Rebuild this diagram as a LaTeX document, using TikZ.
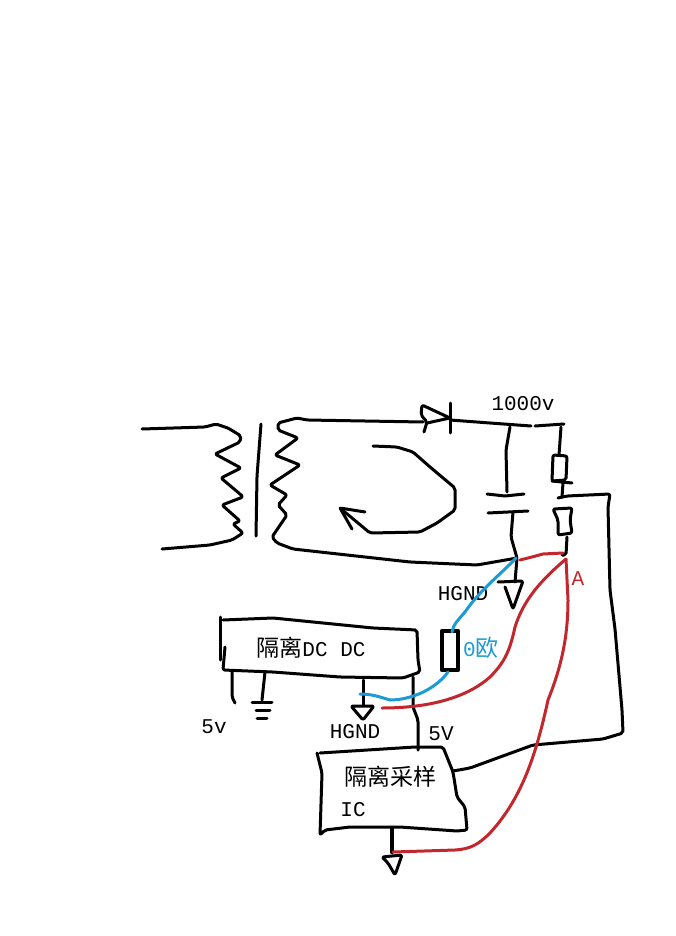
\documentclass[tikz,border=0pt]{standalone}
\usepackage{fontspec}
\setmonofont{Liberation Mono}
\newfontfamily\cjk{Noto Sans CJK SC}
\newcommand{\hz}{\cjk\fontsize{23}{25}\selectfont}
\usepackage{xcolor}
\definecolor{inkred}{HTML}{C1272D}
\definecolor{inkblue}{HTML}{1C9AD6}
\tikzset{
  wire/.style={draw=black, line width=3pt, line cap=round, line join=round, rounded corners=2pt},
  thick wire/.style={wire, line width=4.5pt},
  redw/.style={draw=inkred, line width=3pt, line cap=round, line join=round},
  bluew/.style={draw=inkblue, line width=3pt, line cap=round, line join=round},
  lab/.style={text=black, font=\fontsize{21}{23}\selectfont\ttfamily, inner sep=0pt},
}

\begin{document}
\begin{tikzpicture}[x=1pt,y=-1pt]
  \useasboundingbox (0,0) rectangle (675,936);
  % transformer
  \draw[wire] (142,429) -- (205,427) -- (216,424) -- (228,428) -- (241,436) -- (240,442) -- (215,454) -- (241,468) -- (221,478) -- (240,494) -- (243,497) -- (222,505) -- (240,521) -- (233,524) -- (243,533) -- (232,540) -- (210,545) -- (162,549);
  \draw[wire] (261,424) -- (257,476) -- (256,536);
  \draw[wire] (423,422) -- (307,420) -- (297,418) -- (278,423) -- (278,430) -- (298,438) -- (275,455) -- (300,465) -- (270,485) -- (287,495) -- (278,505) -- (287,515) -- (272,537) -- (277,543) -- (293,549) -- (347,555) -- (410,562) -- (477,565) -- (517,558);
  % diode
  \draw[wire] (424,432) -- (427,422) -- (421,415) -- (422,405) -- (450,418) -- (427,423);
  \draw[wire] (450,403) -- (450,433);
  \draw[wire] (450,420) -- (490,423) -- (531,426);
  \draw[wire] (535,426) -- (564,424);
  % capacitor
  \draw[wire] (510,427) -- (506,450) -- (507,492);
  \draw[wire] (487,494) -- (505,496) -- (524,494);
  \draw[wire] (488,513) -- (528,511);
  \draw[wire] (513,512) -- (511,537) -- (517,558) -- (515,582);
  \draw[wire] (498,582) -- (523,581) -- (513,609) -- (505,587);
  % resistors
  \draw[wire] (561,427) -- (559,455);
  \draw[wire] (553,455) -- (567,456) -- (566,480) -- (552,481) -- cycle;
  \draw[wire] (552,481) -- (572,483);
  \draw[wire] (563,483) -- (562,497);
  \draw[wire] (558,498) -- (567,496) -- (610,494) -- (608,507) -- (610,590) -- (615,629) -- (622,710) -- (623,733) -- (603,739) -- (533,745) -- (470,768) -- (453,771);
  \draw[wire] (553,509) -- (572,508) -- (570,520) -- (572,533) -- (558,535) -- (558,520) -- cycle;
  \draw[wire] (567,537) -- (566,555) -- (562,555);
  % loop arrow
  \draw[wire] (373,446) -- (397,447) -- (413,452) -- (430,467) -- (455,488) -- (455,510) -- (437,523) -- (420,532) -- (370,533) -- (340,508);
  \draw[wire] (365,512) -- (340,508) -- (352,529);
  % DC DC box
  \draw[wire] (220,617) -- (220,660);
  \draw[wire] (225,647) -- (223,670) -- (273,672) -- (340,677) -- (403,678) -- (420,672) -- (418,660) -- (417,630) -- (373,628) -- (323,623) -- (273,618) -- (223,620);
  \draw[wire] (232,672) -- (232,697) -- (235,703);
  \draw[wire] (265,672) -- (262,700);
  \draw[wire] (252,702) -- (272,702);
  \draw[wire] (256,710) -- (270,710);
  \draw[wire] (257,718) -- (267,718);
  \draw[wire] (363,680) -- (363,705);
  \draw[wire] (351,706) -- (374,706) -- (363,720) -- cycle;
  \draw[wire] (413,677) -- (413,707) -- (418,720) -- (418,750);
  % sampling IC
  \draw[wire] (317,753) -- (322,773) -- (320,835) -- (325,830) -- (350,827) -- (400,827) -- (457,831) -- (467,830) -- (465,807) -- (457,797) -- (453,772) -- (443,747) -- (415,747) -- (320,753);
  \draw[thick wire] (392,828) -- (392,852);
  \draw[wire] (382,857) -- (402,855) -- (395,875) -- (388,863) -- cycle;
  % zero ohm link
  \draw[wire, line width=4.2pt, rounded corners=0pt] (442,631) rectangle (458,670);
  % labels
  \node[lab] (volt) at (523,404) {1000v};
  \node[lab] (hgnda) at (463,594) {HGND};
  \node[lab, text=inkblue] (zero) at (481,648) {0{\hz 欧}};
  \node[lab, text=inkred] (alab) at (578,579) {A};
  \node[lab] (dcdc) at (311,648) {{\hz 隔离}DC DC};
  \node[lab] (fiveva) at (214,727) {5v};
  \node[lab] (hgndb) at (355,732) {HGND};
  \node[lab] (fivevb) at (441,734) {5V};
  \node[lab] (sample) at (390,777) {{\hz 隔离采样}};
  \node[lab] (ic) at (353,810) {IC};
  % coloured traces
  \coordinate (A) at (566,559);
  \draw[redw] (520,560) -- (532,557) -- (543,554) -- (563,553);
  \draw[redw] (A) .. controls (535,585) and (522,605) .. (515,627) .. controls (510,650) and (505,662) .. (490,677) .. controls (470,695) and (435,708) .. (382,708);
  \draw[redw] (A) -- (568,600) .. controls (568,640) and (560,670) .. (548,700) .. controls (535,760) and (520,800) .. (490,833) .. controls (478,845) and (470,849) .. (455,850) -- (393,852);
  \draw[bluew] (516,558) .. controls (500,575) and (480,590) .. (465,612) .. controls (458,620) and (453,625) .. (452,632);
  \draw[bluew] (448,672) .. controls (435,690) and (410,700) .. (390,700) .. controls (380,697) and (372,694) .. (360,694);
\end{tikzpicture}
\end{document}
